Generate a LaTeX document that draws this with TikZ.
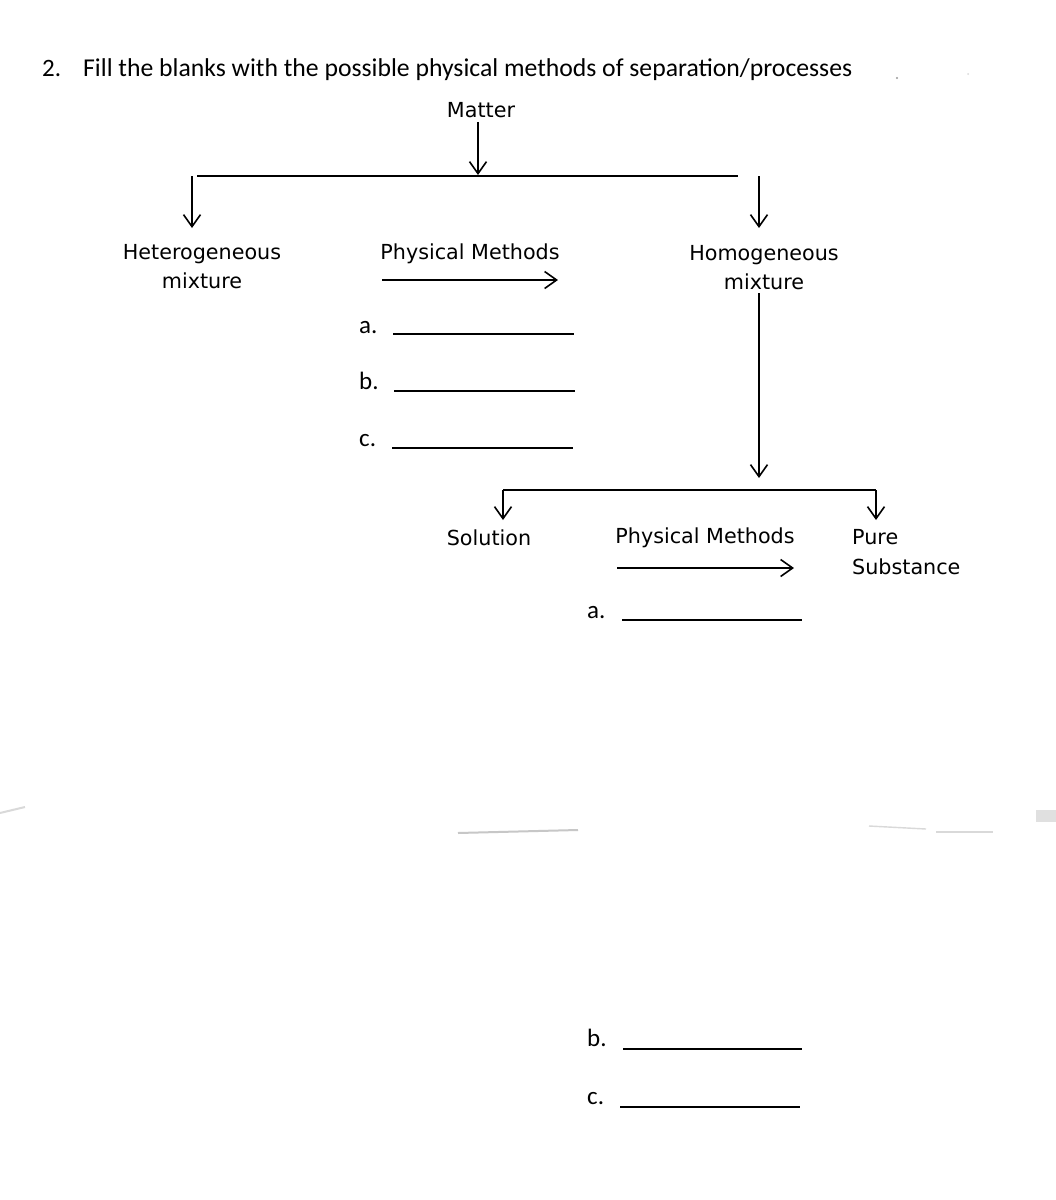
\documentclass[tikz,border=0pt]{standalone}
\usepackage{fontspec}
\setmainfont{DejaVu Sans}
\newfontfamily\calfont{Carlito}
\usetikzlibrary{arrows.meta}
\begin{document}
\begin{tikzpicture}[x=1pt,y=-1pt,
  lbl/.style={inner sep=0pt,font=\fontsize{20.7}{29}\selectfont},
  cal/.style={inner sep=0pt,font=\calfont\fontsize{25}{30}\selectfont},
  arr/.style={line width=1.6pt,-{Straight Barb[length=12pt,width=17pt]}},
  flow/.style={line width=1.6pt},
  blank/.style={line width=1.3pt},
  smudge/.style={line width=2pt,black!22}]
\useasboundingbox[fill=white] (0,0) rectangle (1056,1200);

% title
\node[cal,anchor=base west] (num) at (42,76) {2.};
\node[cal,anchor=base west,font=\calfont\fontsize{25.7}{30}\selectfont] (title) at (83,76) {Fill the blanks with the possible physical methods of separation/processes};
\fill[black!40] (897,78) circle (1.2);
\fill[black!15] (968,74) circle (1);

% top level
\node[lbl] (matter) at (481,110) {Matter};
\coordinate (mtip) at (478,175);
\draw[arr] (matter.south -| mtip) ++(0,4) -- (mtip);
\coordinate (busL) at (197,176);
\coordinate (busR) at (738,176);
\draw[flow] (busL) -- (busR);

\node[lbl,align=center] (hetero) at (202,267) {Heterogeneous\\mixture};
\node[lbl,align=center] (homo) at (764,268) {Homogeneous\\mixture};
\coordinate (hetTop) at (192,176);
\coordinate (hetTip) at (192,228);
\coordinate (homTop) at (759,176);
\coordinate (homTip) at (759,228);
\draw[arr] (hetTop) -- (hetTip);
\draw[arr] (homTop) -- (homTip);

% physical methods 1
\node[lbl] (pm1) at (470,254) {Physical Methods};
\coordinate (pm1a) at (382,280);
\coordinate (pm1b) at (558,280);
\draw[arr] (pm1a) -- (pm1b);

\node[cal,anchor=base west] (a1) at (359,333) {a.};
\node[cal,anchor=base west] (b1) at (359,389) {b.};
\node[cal,anchor=base west] (c1) at (359,446) {c.};
\draw[blank] (393,334) -- (574,334);
\draw[blank] (394,391) -- (575,391);
\draw[blank] (392,448) -- (573,448);

% lower level
\coordinate (hmStart) at (759,293);
\coordinate (hmTip) at (759,478);
\draw[arr] (hmStart) -- (hmTip);
\coordinate (b2l) at (503,490);
\coordinate (b2r) at (876,490);
\coordinate (solTip) at (503,520);
\coordinate (pureTip) at (876,520);
\draw[flow] (b2l) -- (b2r);
\draw[arr] (b2l) -- (solTip);
\draw[arr] (b2r) -- (pureTip);

\node[lbl] (solution) at (489,538) {Solution};
\node[lbl] (pm2) at (705,538) {Physical Methods};
\coordinate (pm2a) at (617,568);
\coordinate (pm2b) at (794,568);
\draw[arr] (pm2a) -- (pm2b);
\node[lbl,align=left,anchor=west,font=\fontsize{20.7}{30}\selectfont] (pure) at (852,552) {Pure\\Substance};

\node[cal,anchor=base west] (a2) at (587,618) {a.};
\node[cal,anchor=base west] (b2) at (587,1046) {b.};
\node[cal,anchor=base west] (c2) at (587,1104) {c.};
\draw[blank] (622,620) -- (802,620);
\draw[blank] (623,1049) -- (802,1049);
\draw[blank] (620,1107) -- (800,1107);

% faint scan marks
\draw[smudge,black!15] (0,813) -- (25,807);
\draw[smudge] (458,833) -- (578,830);
\draw[smudge,black!15,line width=1.4pt] (869,826) -- (926,829);
\draw[smudge,black!15,line width=1.2pt] (936,832) -- (993,832);
\fill[black!12] (1036,810) rectangle (1056,822);
\end{tikzpicture}
\end{document}
